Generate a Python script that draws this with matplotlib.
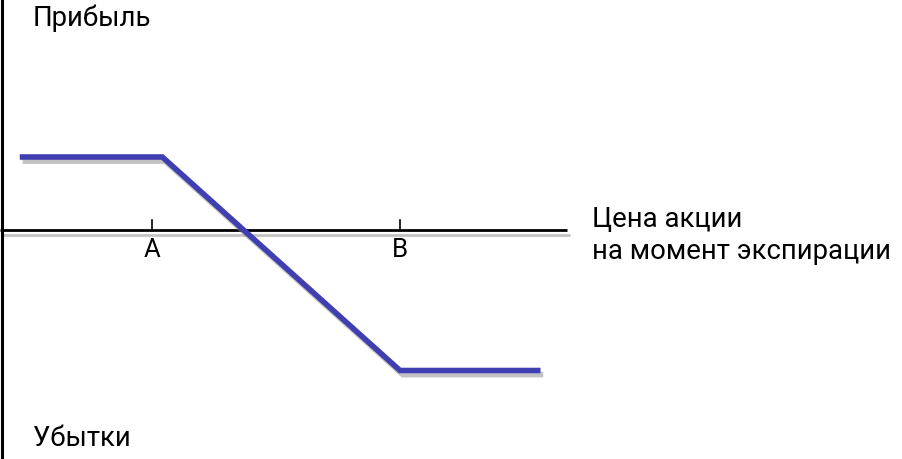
import matplotlib
matplotlib.use("Agg")
import matplotlib.pyplot as plt
import matplotlib.patheffects as pe

# payoff at expiration (price, profit)
price = [8, 42.5, 100, 134]
payoff = [2.1, 2.1, -4.0, -4.0]
strikes = [40, 100]
strike_labels = ["A", "B"]

plt.rcParams['font.family'] = ['Roboto', 'DejaVu Sans']

fig = plt.figure(figsize=(9.03, 4.59), dpi=100)
ax = fig.add_axes([0, 0, 1, 1])
ax.set_xlim(3.225, 221.7)
ax.set_ylim(-6.529, 6.586)
ax.axis('off')

shadow = [pe.SimpleLineShadow(offset=(2, -3), shadow_color='#888888', alpha=0.5), pe.Normal()]

# axes
ax.plot([3.2, 140.4], [0, 0], color='black', lw=2, solid_capstyle='butt', path_effects=shadow)
ax.axvline(3.59, color='black', lw=2.2)

for s, lab in zip(strikes, strike_labels):
    ax.plot([s, s], [0, 0.3], color='black', lw=1.2)
    ax.text(s, -0.757, lab, ha='center', va='baseline', fontsize=18.5)

ax.plot(price, payoff, color='#3f3fb2', lw=4, solid_joinstyle='miter', solid_capstyle='butt',
        path_effects=shadow)

fs = 19.8
fig.text(33 / 903, 1 - 26 / 459, "Прибыль", fontsize=fs, va='baseline')
fig.text(33 / 903, 1 - 446 / 459, "Убытки", fontsize=fs, va='baseline')
fig.text(592 / 903, 1 - 227 / 459, "Цена акции", fontsize=fs, va='baseline')
fig.text(592 / 903, 1 - 259 / 459, "на момент экспирации", fontsize=fs, va='baseline')

fig.savefig("out.png", dpi=100)
